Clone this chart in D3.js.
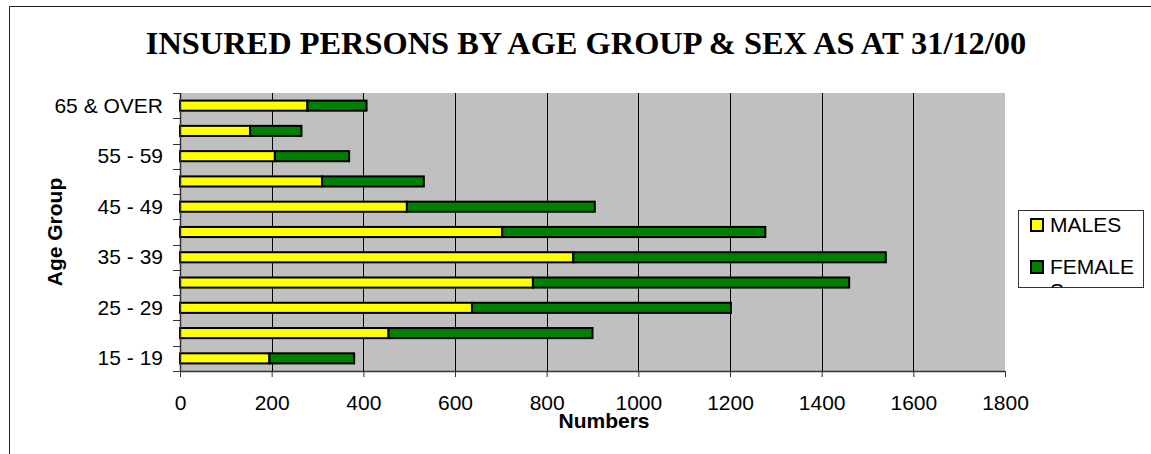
<!DOCTYPE html>
<html>
<head>
<meta charset="utf-8">
<script src="https://cdn.jsdelivr.net/npm/d3@7"></script>
<style>
  html, body { margin: 0; padding: 0; background: #fff; }
  svg { display: block; }
</style>
</head>
<body>
<div id="chart"></div>
<script>
// Age groups, bottom to top
const ageGroups = ["15 - 19", "20 - 24", "25 - 29", "30 - 34", "35 - 39", "40 - 44",
                   "45 - 49", "50 - 54", "55 - 59", "60 - 64", "65 & OVER"];
const males   = [195, 455, 637, 770, 858, 703, 495, 310, 207, 153, 278];
const females = [185, 445, 565, 690, 682, 574, 410, 222, 162, 112, 129];
const seriesNames = ["MALES", "FEMALES"];
const xTicks = [0, 200, 400, 600, 800, 1000, 1200, 1400, 1600, 1800];

const W = 1151, H = 454;
const plot = { left: 180, right: 1005, top: 93, bottom: 371 };
const colors = { MALES: "#FFFF00", FEMALES: "#008000" };
const sans = "'Liberation Sans', Arial, sans-serif";

const svg = d3.select("#chart").append("svg")
  .attr("width", W).attr("height", H);

// chart frame
svg.append("line").attr("x1", 9.5).attr("x2", W).attr("y1", 6.5).attr("y2", 6.5)
  .attr("stroke", "#222").attr("stroke-width", 1);
svg.append("line").attr("x1", 9.5).attr("x2", 9.5).attr("y1", 6.5).attr("y2", H)
  .attr("stroke", "#222").attr("stroke-width", 1);

// title
svg.append("text")
  .attr("x", 586).attr("y", 54)
  .attr("text-anchor", "middle")
  .attr("font-family", "'Liberation Serif', 'Times New Roman', serif")
  .attr("font-weight", "bold")
  .attr("font-size", 32.4)
  .text("INSURED PERSONS BY AGE GROUP & SEX AS AT 31/12/00");

const x = d3.scaleLinear().domain([0, 1800]).range([plot.left, plot.right]);
const y = d3.scaleBand().domain(ageGroups)
  .range([plot.bottom, plot.top])
  .paddingInner(0.6).paddingOuter(0.3);

// plot background
svg.append("rect")
  .attr("x", plot.left).attr("y", plot.top)
  .attr("width", plot.right - plot.left).attr("height", plot.bottom - plot.top)
  .attr("fill", "#C0C0C0");

// vertical gridlines
svg.append("g").selectAll("line")
  .data(xTicks.filter(t => t > 0 && t < 1800))
  .join("line")
  .attr("x1", d => Math.round(x(d)) + 0.5).attr("x2", d => Math.round(x(d)) + 0.5)
  .attr("y1", plot.top).attr("y2", plot.bottom)
  .attr("stroke", "#000").attr("stroke-width", 1);

// stacked bars
const rows = ageGroups.map((g, i) => ({ group: g, MALES: males[i], FEMALES: females[i] }));
const stacked = d3.stack().keys(seriesNames)(rows);

svg.append("g").selectAll("g")
  .data(stacked)
  .join("g")
  .attr("fill", d => colors[d.key])
  .selectAll("rect")
  .data(d => d)
  .join("rect")
  .attr("x", d => x(d[0]))
  .attr("y", d => y(d.data.group))
  .attr("width", d => x(d[1]) - x(d[0]))
  .attr("height", y.bandwidth())
  .attr("stroke", "#000")
  .attr("stroke-width", 2);

// x axis
const xAxis = svg.append("g")
  .attr("transform", `translate(0,${plot.bottom})`)
  .call(d3.axisBottom(x).tickValues(xTicks).tickFormat(d3.format("d"))
    .tickSize(6).tickSizeOuter(0).tickPadding(18));
xAxis.select(".domain").attr("stroke", "#333").attr("stroke-width", 1.5);
xAxis.selectAll(".tick line").attr("stroke", "#333").attr("stroke-width", 1);
xAxis.selectAll("text")
  .attr("font-family", sans)
  .attr("font-size", 21).attr("fill", "#000");

// y axis: ticks at category boundaries, labels on every other category
const boundaries = d3.range(ageGroups.length + 1).map(i => plot.bottom - i * (plot.bottom - plot.top) / ageGroups.length);
svg.append("line")
  .attr("x1", plot.left + 0.5).attr("x2", plot.left + 0.5)
  .attr("y1", plot.top).attr("y2", plot.bottom)
  .attr("stroke", "#333").attr("stroke-width", 1.5);
svg.append("g").selectAll("line")
  .data(boundaries)
  .join("line")
  .attr("x1", plot.left - 7).attr("x2", plot.left)
  .attr("y1", d => Math.round(d) + 0.5).attr("y2", d => Math.round(d) + 0.5)
  .attr("stroke", "#333").attr("stroke-width", 1);

svg.append("g").selectAll("text")
  .data(ageGroups.filter((g, i) => i % 2 === 0))
  .join("text")
  .attr("x", 163)
  .attr("y", d => y(d) + y.bandwidth() / 2 + 7)
  .attr("text-anchor", "end")
  .attr("font-family", sans)
  .attr("font-size", 21)
  .text(d => d);

// axis titles
svg.append("text")
  .attr("transform", "translate(62,232) rotate(-90)")
  .attr("text-anchor", "middle")
  .attr("font-family", sans)
  .attr("font-weight", "bold").attr("font-size", 21)
  .text("Age Group");

svg.append("text")
  .attr("x", 604).attr("y", 428)
  .attr("text-anchor", "middle")
  .attr("font-family", sans)
  .attr("font-weight", "bold").attr("font-size", 21)
  .text("Numbers");

// legend
const legend = { x: 1018.5, y: 210.5, w: 125, h: 77 };
svg.append("clipPath").attr("id", "legend-clip")
  .append("rect").attr("x", legend.x).attr("y", legend.y).attr("width", legend.w).attr("height", legend.h);
svg.append("rect")
  .attr("x", legend.x).attr("y", legend.y).attr("width", legend.w).attr("height", legend.h)
  .attr("fill", "#fff").attr("stroke", "#333").attr("stroke-width", 1);

const lg = svg.append("g").attr("clip-path", "url(#legend-clip)");
const legendRows = [
  { key: "MALES", lines: ["MALES"], top: 219 },
  { key: "FEMALES", lines: ["FEMALE", "S"], top: 261 }
];
legendRows.forEach(r => {
  lg.append("rect")
    .attr("x", 1031).attr("y", r.top)
    .attr("width", 12).attr("height", 12)
    .attr("fill", colors[r.key]).attr("stroke", "#000").attr("stroke-width", 2);
  const t = lg.append("text")
    .attr("x", 1050).attr("y", r.top + 13)
    .attr("font-family", sans)
    .attr("font-size", 21);
  r.lines.forEach((ln, i) => {
    t.append("tspan").attr("x", 1050).attr("dy", i === 0 ? 0 : 24).text(ln);
  });
});
</script>
</body>
</html>
